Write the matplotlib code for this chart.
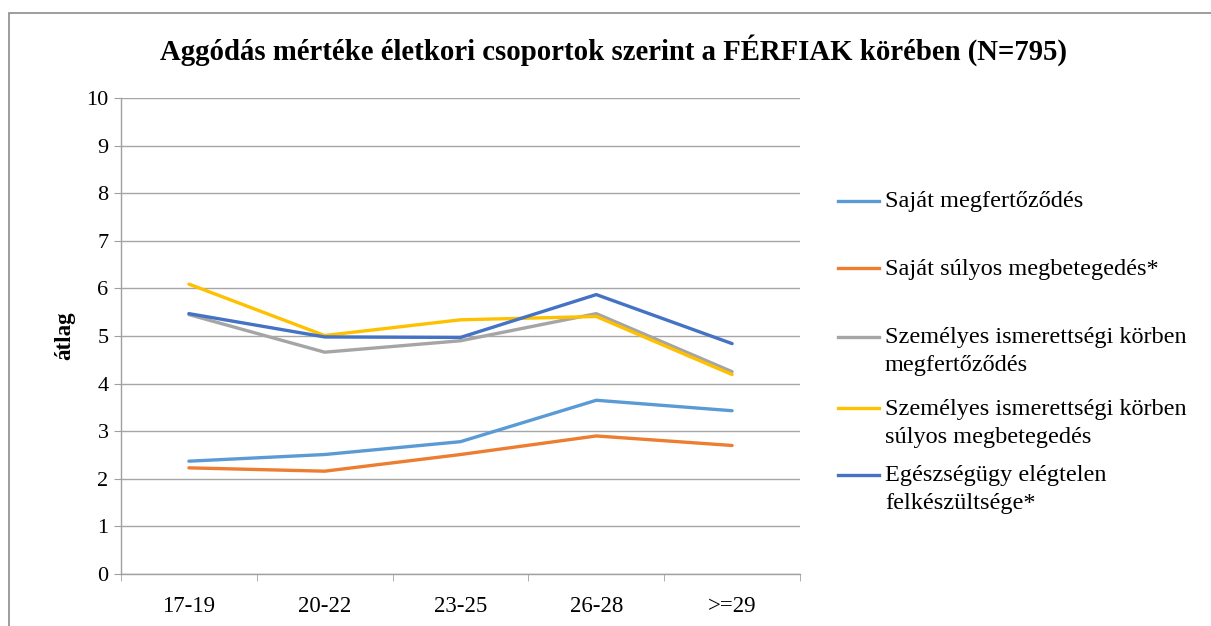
import matplotlib
matplotlib.use("Agg")
import matplotlib.pyplot as plt
from matplotlib.lines import Line2D
from matplotlib.patches import Rectangle

plt.rcParams['font.family'] = ['Liberation Serif', 'DejaVu Serif']

# data
categories = ["17-19", "20-22", "23-25", "26-28", ">=29"]
sajat_fert = [2.37, 2.51, 2.78, 3.65, 3.43]
sajat_sulyos = [2.23, 2.16, 2.51, 2.90, 2.70]
szem_fert = [5.45, 4.66, 4.90, 5.47, 4.25]
szem_sulyos = [6.09, 5.01, 5.34, 5.41, 4.19]
egeszsegugy = [5.47, 4.98, 4.97, 5.87, 4.84]

labels = [
    ["Saját megfertőződés"],
    ["Saját súlyos megbetegedés*"],
    ["Személyes ismerettségi körben", "megfertőződés"],
    ["Személyes ismerettségi körben", "súlyos megbetegedés"],
    ["Egészségügy elégtelen", "felkészültsége*"],
]
series = [sajat_fert, sajat_sulyos, szem_fert, szem_sulyos, egeszsegugy]
colors = ["#5B9BD5", "#ED7D31", "#A5A5A5", "#FFC000", "#4472C4"]

W, H = 1211, 626
fig = plt.figure(figsize=(W / 100, H / 100), dpi=100)
ax = fig.add_axes([121 / W, 1 - 574 / H, (800 - 121) / W, (574 - 98) / H])

x = list(range(len(categories)))
# later series drawn on top, like Excel
for vals, col in zip(series, colors):
    ax.plot(x, vals, color=col, lw=2.4, solid_capstyle='round', solid_joinstyle='round')

ax.set_xlim(-0.5, len(categories) - 0.5)
ax.set_ylim(0, 10)
ax.set_yticks(range(0, 11))
ax.set_xticks(x)
ax.set_xticklabels(categories, fontsize=16.5)
ax.set_xticks([i - 0.5 for i in range(len(categories) + 1)], minor=True)
ax.tick_params(axis='x', which='major', length=0, pad=16)
ax.tick_params(axis='x', which='minor', length=5, color='#a0a0a0')
ax.tick_params(axis='y', length=5, color='#a0a0a0', labelsize=16, pad=4)
ax.grid(axis='y', color='#a6a6a6', lw=1)
ax.set_axisbelow(True)
for s in ['top', 'right']:
    ax.spines[s].set_visible(False)
for s in ['left', 'bottom']:
    ax.spines[s].set_color('#a0a0a0')
    ax.spines[s].set_linewidth(1)
ax.set_ylabel("átlag", fontsize=16.5, fontweight='bold', labelpad=8)

fig.text(614 / W, 1 - 50 / H, "Aggódás mértéke életkori csoportok szerint a FÉRFIAK körében (N=795)",
         ha='center', va='center', fontsize=20.7, fontweight='bold')

# legend drawn by hand to match the spacing
leg_y = [201, 268, 337, 408, 475]
line_h = 28
for lab, col, yy in zip(labels, colors, leg_y):
    fig.add_artist(Line2D([838 / W, 879 / W], [1 - yy / H, 1 - yy / H], color=col, lw=2.4,
                          transform=fig.transFigure))
    for k, txt in enumerate(lab):
        fig.text(885 / W, 1 - (yy + 1 + k * line_h) / H, txt, ha='left', va='center', fontsize=17.5)

# outer chart frame
fig.add_artist(Rectangle((9 / W, -0.1), 1.2, 1 - 13 / H + 0.1, transform=fig.transFigure,
                         fill=False, edgecolor='#8c8c8c', lw=1.2))

fig.savefig("out.png", dpi=100)
